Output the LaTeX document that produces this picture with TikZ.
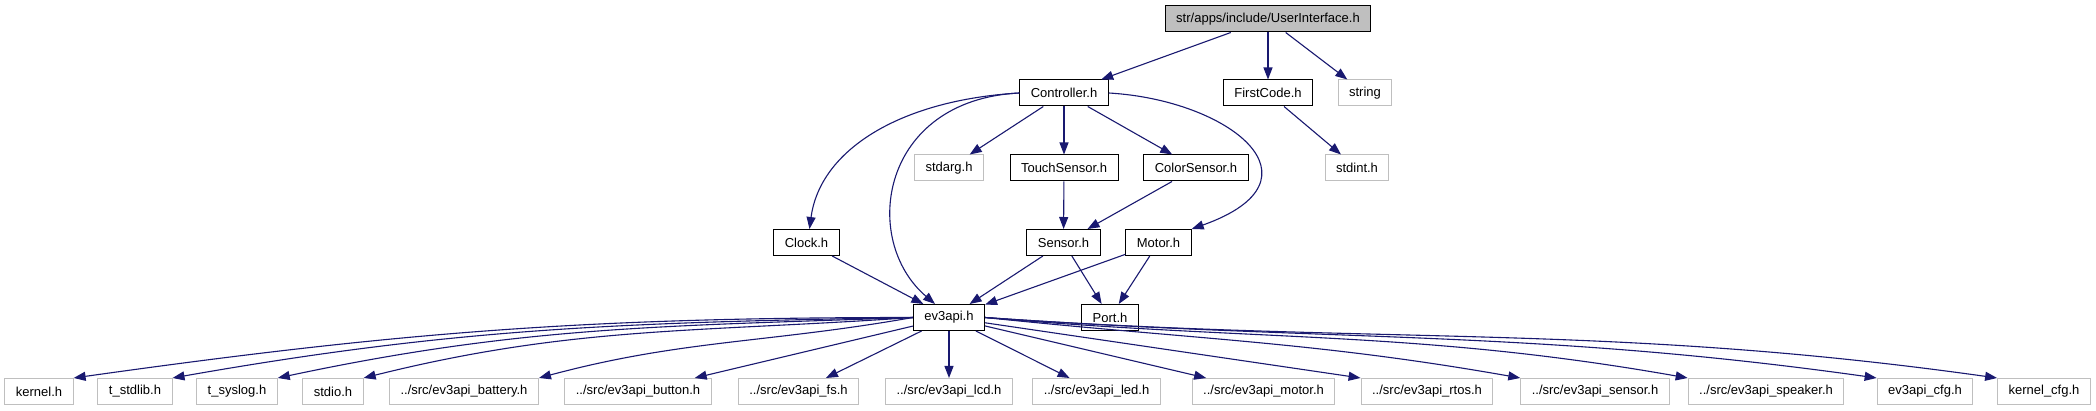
\documentclass[tikz,border=0pt]{standalone}
\usepackage{fontspec}
\setmainfont{Liberation Sans}
\usetikzlibrary{arrows.meta}
\definecolor{edgeblue}{HTML}{191970}
\definecolor{extgray}{HTML}{BFBFBF}

\begin{document}
\begin{tikzpicture}[x=1pt, y=1pt,
hdr/.style={draw=black, line width=1pt, font=\fontsize{13}{15}\selectfont,
inner xsep=11pt, inner ysep=0pt, minimum height=26pt},
ext/.style={hdr, draw=extgray},
root/.style={hdr, fill=extgray},
dep/.style={-{Triangle[length=12pt, width=9pt]}, draw=edgeblue, line width=1.1pt}
]
\fill[white] (0,0) rectangle (2096,-411);
\useasboundingbox (0,0) rectangle (2096,-411);

% top levels
\node[root] (ui) at (1268,-19) {str/apps/include/UserInterface.h};
\node[hdr] (ctrl) at (1064,-93) {Controller.h};
\node[hdr] (firstcode) at (1268,-93) {FirstCode.h};
\node[ext] (str) at (1365,-93) {string};
\node[ext] (stdarg) at (949,-168) {stdarg.h};
\node[hdr] (touch) at (1064,-168) {TouchSensor.h};
\node[hdr] (color) at (1196,-168) {ColorSensor.h};
\node[ext] (stdint) at (1357,-168) {stdint.h};
\node[hdr] (clock) at (806.5,-242.5) {Clock.h};
\node[hdr] (sensor) at (1063.5,-242.5) {Sensor.h};
\node[hdr] (motor) at (1158.5,-242.5) {Motor.h};
\node[hdr] (ev3api) at (949,-317.5) {ev3api.h};
\node[hdr] (port) at (1110,-317.5) {Port.h};

% bottom row
\node[ext] (kernel) at (39,-391.5) {kernel.h};
\node[ext] (tstdlib) at (135,-391.5) {t\_stdlib.h};
\node[ext] (tsyslog) at (237,-391.5) {t\_syslog.h};
\node[ext] (stdio) at (333,-391.5) {stdio.h};
\node[ext] (battery) at (464,-391.5) {../src/ev3api\_battery.h};
\node[ext] (button) at (638,-391.5) {../src/ev3api\_button.h};
\node[ext] (fs) at (798.5,-391.5) {../src/ev3api\_fs.h};
\node[ext] (lcd) at (949,-391.5) {../src/ev3api\_lcd.h};
\node[ext] (led) at (1096.5,-391.5) {../src/ev3api\_led.h};
\node[ext] (apimotor) at (1263.5,-391.5) {../src/ev3api\_motor.h};
\node[ext] (rtos) at (1427,-391.5) {../src/ev3api\_rtos.h};
\node[ext] (apisensor) at (1595,-391.5) {../src/ev3api\_sensor.h};
\node[ext] (speaker) at (1766,-391.5) {../src/ev3api\_speaker.h};
\node[ext] (apicfg) at (1925,-391.5) {ev3api\_cfg.h};
\node[ext] (kernelcfg) at (2044,-391.5) {kernel\_cfg.h};

\draw[dep] (ui) -- (ctrl);
\draw[dep] (ui) -- (firstcode);
\draw[dep] (ui) -- (str);
\draw[dep] (ctrl.west) .. controls (900,-100) and (820,-150) .. ([xshift=3pt]clock.north);
\draw[dep] (ctrl.west) .. controls (880,-100) and (860,-240) .. ([xshift=-14pt]ev3api.north);
\draw[dep] (ctrl) -- (stdarg);
\draw[dep] (ctrl) -- (touch);
\draw[dep] (ctrl) -- (color);
\draw[dep] (ctrl.east) .. controls (1230,-100) and (1330,-180) .. (motor.north east);
\draw[dep] (firstcode) -- (stdint);
\draw[dep] (touch) -- (sensor);
\draw[dep] (color) -- (sensor);
\draw[dep] (clock) -- (ev3api);
\draw[dep] (sensor) -- (ev3api);
\draw[dep] (sensor) -- (port);
\draw[dep] (motor) -- (ev3api);
\draw[dep] (motor) -- (port);

\draw[dep] (ev3api.west) to[out=180, in=8] (kernel.north east);
\draw[dep] (ev3api.west) to[out=181, in=10] (tstdlib.north east);
\draw[dep] (ev3api.west) to[out=182, in=12] (tsyslog.north east);
\draw[dep] (ev3api.west) to[out=184, in=14] (stdio.north east);
\draw[dep] (ev3api.west) to[out=190, in=15] (battery.north east);
\draw[dep] (ev3api) -- (button);
\draw[dep] (ev3api) -- (fs);
\draw[dep] (ev3api) -- (lcd);
\draw[dep] (ev3api) -- (led);
\draw[dep] (ev3api) -- (apimotor);
\draw[dep] (ev3api) -- (rtos.north west);
\draw[dep] (ev3api.east) to[out=-6, in=170] (apisensor.north west);
\draw[dep] (ev3api.east) to[out=-5, in=170] (speaker.north west);
\draw[dep] (ev3api.east) to[out=-4, in=172] (apicfg.north west);
\draw[dep] (ev3api.east) to[out=-4, in=172] (kernelcfg.north west);
\end{tikzpicture}
\end{document}
